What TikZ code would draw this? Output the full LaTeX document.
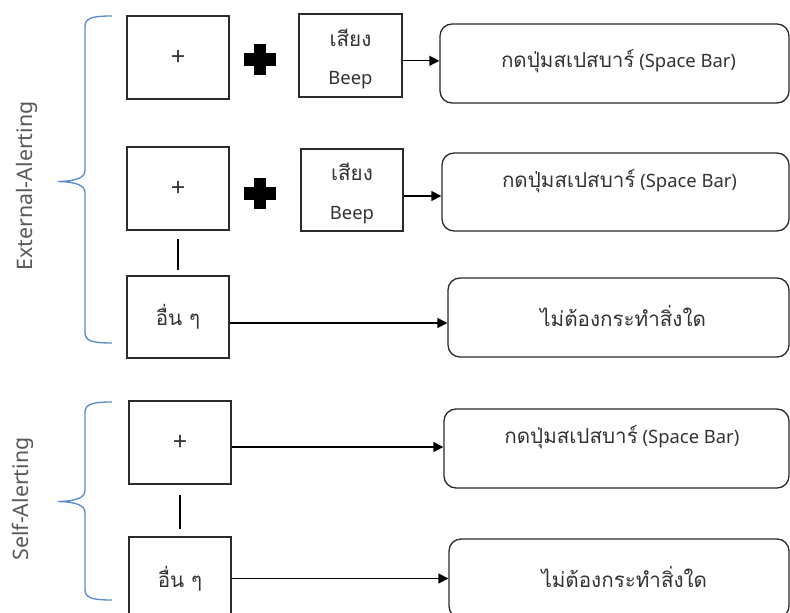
\documentclass[tikz,border=0pt]{standalone}
\usepackage{fontspec}
\setmainfont{Noto Sans}
\newfontfamily\thai[Script=Thai,Scale=1.12]{Loma}
\usetikzlibrary{arrows.meta,calc}
\definecolor{boxc}{HTML}{2B2B2B}
\definecolor{txtc}{HTML}{333333}
\definecolor{bracec}{HTML}{5B8BC8}
\definecolor{sidec}{HTML}{595959}
\tikzset{
  wh/.style 2 args={minimum width=#1*0.75pt, minimum height=#2*0.75pt},
  box/.style={draw=boxc, line width=1pt, fill=white, inner sep=0pt,
    text=txtc, font=\fontsize{13.8}{16}\selectfont},
  fixbox/.style={box, font=\fontsize{19}{20}\selectfont},
  rbox/.style={box, rounded corners=9pt},
  rtext/.style={text=txtc, inner sep=0pt, align=center, font=\fontsize{13.8}{16}\selectfont},
  arr/.style={-{Triangle[length=7.5pt,width=7.5pt]}, line width=1pt, draw=black},
  link/.style={line width=1pt, draw=black},
  brace/.style={draw=bracec, line width=1pt},
  side/.style={text=sidec, inner sep=0pt, font=\fontsize{16}{18}\selectfont}
}
\newcommand{\bigplus}[2]{%
  \fill[black] (#1-6,#2-15.5) rectangle (#1+6,#2+15.5);
  \fill[black] (#1-16,#2-6.5) rectangle (#1+16,#2+6.5);}
\begin{document}
\begin{tikzpicture}[x=0.75pt,y=-0.75pt]
\useasboundingbox (0,0) rectangle (790,613);
\fill[white] (0,0) rectangle (790,613);

% ---- External-Alerting group ----
\node[fixbox, wh={102}{83}] (f1) at (178,57.5) {+};
\node[fixbox, wh={102}{83}] (f2) at (178,188.5) {+};
\node[box, wh={102}{82}] (o1) at (178,317) {\thai อื่น ๆ};

\node[box, wh={103}{83}, label={[rtext, yshift=-2.5pt]center:{\thai เสียง}\\[13pt]Beep}] (s1) at (350.5,55.5) {};
\node[box, wh={102}{82}, label={[rtext, yshift=-2.5pt]center:{\thai เสียง}\\[13pt]Beep}] (s2) at (352,190) {};

\bigplus{260}{59.5}
\bigplus{260}{194}

\node[rbox, wh={349}{79}, label={[rtext, xshift=3pt, yshift=1.5pt]center:{\thai กดปุ่มสเปสบาร์} (Space Bar)}] (r1) at (614.5,63.5) {};
\node[rbox, wh={347}{78}, label={[rtext, xshift=3pt, yshift=8pt]center:{\thai กดปุ่มสเปสบาร์} (Space Bar)}] (r2) at (615.5,192) {};
\node[rbox, wh={341}{79}, label={[rtext, xshift=3.5pt, yshift=1.5pt]center:{\thai ไม่ต้องกระทำสิ่งใด}}] (r3) at (618.5,317.5) {};

\draw[arr] ([yshift=-4pt]s1.east) -- ([yshift=-4pt]s1.east -| r1.west);
\draw[arr] ([yshift=-4.5pt]s2.east) -- ([yshift=-4.5pt]s2.east -| r2.west);
\draw[arr] ([yshift=-4.5pt]o1.east) -- ([yshift=-4.5pt]o1.east -| r3.west);
\draw[link, shorten <=6pt, shorten >=3.75pt] (f2.south) -- (o1.north);

\draw[brace] (112,16) .. controls (96,16) and (85,17) .. (85,26) -- (85,170)
  .. controls (85,178) and (76,181) .. (58,181.5)
  .. controls (76,182) and (85,185) .. (85,193) -- (85,333)
  .. controls (85,342) and (96,343) .. (112,343);
\node[side, rotate=90] (ext) at (27,186) {External-Alerting};

% ---- Self-Alerting group ----
\node[fixbox, wh={102}{83}] (f3) at (180,442.5) {+};
\node[box, wh={102}{83}] (o2) at (180,578.5) {\thai อื่น ๆ};

\node[rbox, wh={345}{79}, label={[rtext, xshift=4pt, yshift=8.5pt]center:{\thai กดปุ่มสเปสบาร์} (Space Bar)}] (r4) at (616.5,448.5) {};
\node[rbox, wh={340}{79}, label={[rtext, xshift=4pt, yshift=1pt]center:{\thai ไม่ต้องกระทำสิ่งใด}}] (r5) at (619,578.5) {};

\draw[arr] ([yshift=-3.4pt]f3.east) -- ([yshift=-3.4pt]f3.east -| r4.west);
\draw[arr] (o2.east) -- (o2.east -| r5.west);
\draw[link, shorten <=7.5pt, shorten >=5.25pt] (f3.south) -- (o2.north);

\draw[brace] (112,402) .. controls (96,402) and (85,403) .. (85,412) -- (85,490)
  .. controls (85,498) and (76,501) .. (58,501.5)
  .. controls (76,502) and (85,505) .. (85,513) -- (85,590)
  .. controls (85,599) and (96,600) .. (112,600);
\node[side, rotate=90] (self) at (23,499) {Self-Alerting};
\end{tikzpicture}
\end{document}
